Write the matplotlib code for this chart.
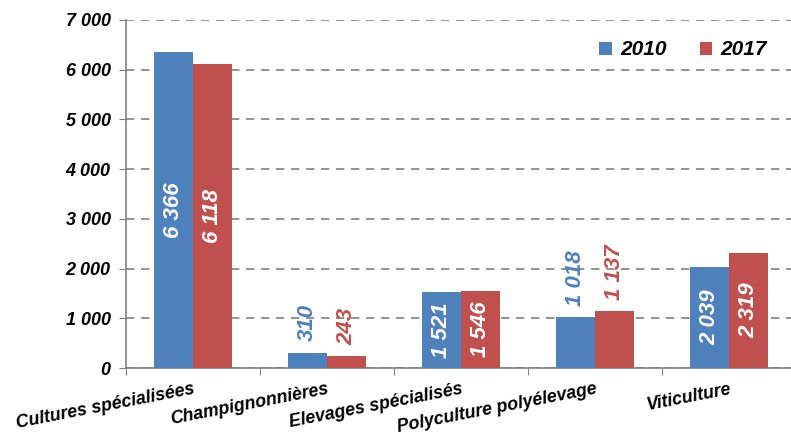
import numpy as np
import matplotlib
matplotlib.use("Agg")
import matplotlib.pyplot as plt
from matplotlib.ticker import FuncFormatter

# données
categories = ["Cultures spécialisées", "Champignonnières", "Elevages spécialisés",
              "Polyculture polyélevage", "Viticulture"]
annees = ["2010", "2017"]
valeurs_2010 = [6366, 310, 1521, 1018, 2039]
valeurs_2017 = [6118, 243, 1546, 1137, 2319]

bleu = "#4F81BD"
rouge = "#C0504D"
plt.rcParams['font.family'] = ['Liberation Sans', 'DejaVu Sans']

fig = plt.figure(figsize=(7.91, 4.36), dpi=100)
ax = fig.add_axes([126 / 791, 68 / 436, 670 / 791, 348 / 436])

x = np.arange(len(categories))
largeur = 0.29
b1 = ax.bar(x - largeur / 2, valeurs_2010, largeur, color=bleu, label=annees[0], zorder=3)
b2 = ax.bar(x + largeur / 2, valeurs_2017, largeur, color=rouge, label=annees[1], zorder=3)

def fmt(v):
    return "{:,}".format(int(v)).replace(",", " ")

# étiquettes de valeurs
for barres, couleur in ((b1, bleu), (b2, rouge)):
    for b in barres:
        h = b.get_height()
        cx = b.get_x() + b.get_width() / 2
        if h > 1400:
            ax.text(cx, h / 2, fmt(h), rotation=90, ha='center', va='center', color='white',
                    fontsize=16, fontweight='bold', fontstyle='italic', zorder=4)
        else:
            ax.annotate(fmt(h), (cx, h), xytext=(0, 8), textcoords='offset points', rotation=90,
                        ha='center', va='bottom', color=couleur,
                        fontsize=16, fontweight='bold', fontstyle='italic', zorder=4)

ax.set_ylim(0, 7000)
ax.set_xlim(-0.5, len(categories) - 0.5)
ax.set_yticks(np.arange(0, 7001, 1000))
ax.yaxis.set_major_formatter(FuncFormatter(lambda v, p: fmt(v)))
ax.yaxis.grid(True, linestyle=(0, (5, 4)), color='#808080', linewidth=1.2, zorder=0)
for lab in ax.get_yticklabels():
    lab.set_fontsize(13)
    lab.set_fontweight('bold')
    lab.set_fontstyle('italic')
ax.tick_params(axis='y', length=5, color='#808080', pad=6)

# graduations entre les catégories
ax.set_xticks(np.arange(len(categories) + 1) - 0.5)
ax.set_xticklabels([])
ax.tick_params(axis='x', length=5, color='#808080')
for i, nom in enumerate(categories):
    ax.text(i, -260, nom, rotation=11, rotation_mode='anchor', ha='right', va='top',
            fontsize=12.8, fontweight='bold', fontstyle='italic')

for cote in ('top', 'right'):
    ax.spines[cote].set_visible(False)
for cote in ('left', 'bottom'):
    ax.spines[cote].set_color('#808080')
    ax.spines[cote].set_linewidth(1.2)

leg = ax.legend(loc='upper right', bbox_to_anchor=(0.985, 0.995), ncol=2, frameon=False,
                handlelength=0.6, handleheight=0.6, handletextpad=0.4, columnspacing=1.6,
                prop={'size': 15, 'weight': 'bold', 'style': 'italic'})

fig.savefig("out.png", dpi=100)
